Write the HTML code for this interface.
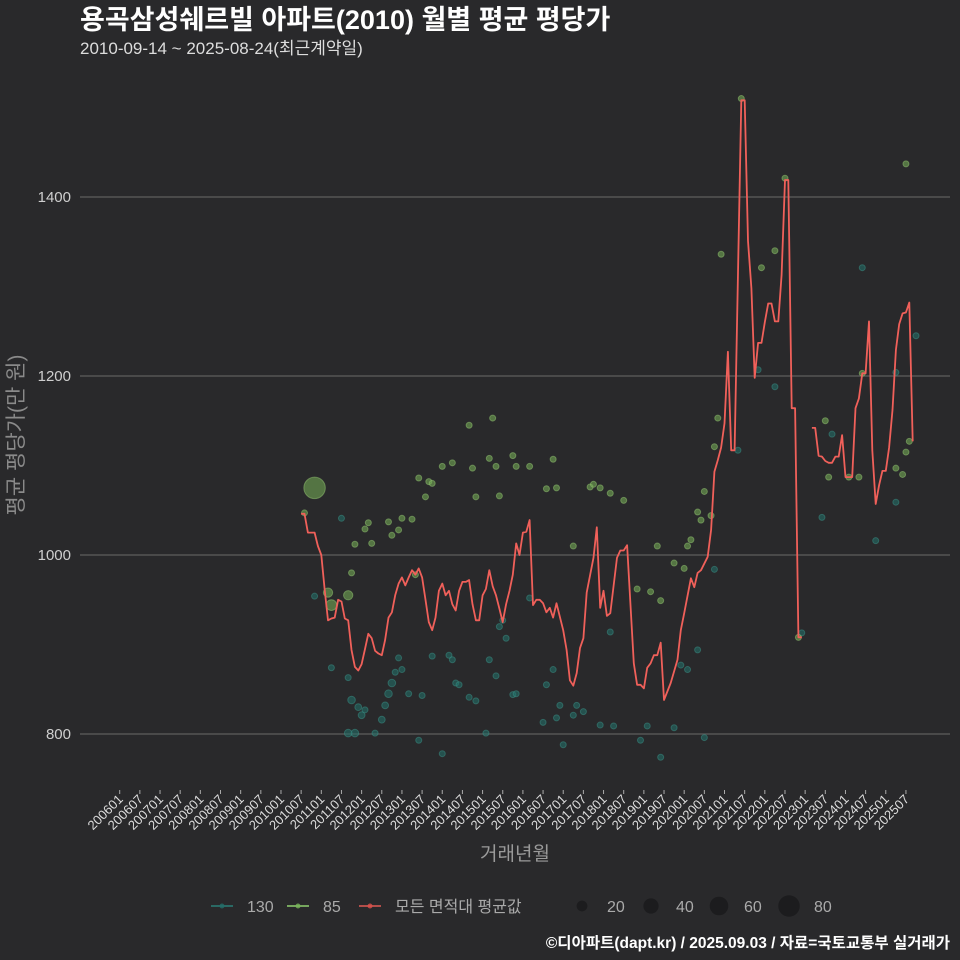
<!DOCTYPE html>
<html><head><meta charset="utf-8"><style>
body{margin:0;background:#29292b;}
svg{display:block;font-family:"Liberation Sans","Noto Sans CJK KR",sans-serif;}
</style></head><body>
<svg id="c" width="960" height="960">
<rect width="960" height="960" fill="#29292b"/>
<text x="80" y="29" fill="#fff" font-size="27" font-weight="bold">용곡삼성쉐르빌 아파트(2010) 월별 평균 평당가</text>
<text x="80" y="54" fill="#ddd" font-size="17">2010-09-14 ~ 2025-08-24(최근계약일)</text>
<text transform="translate(23,435) rotate(-90)" text-anchor="middle" fill="#8a8a8a" font-size="21">평균 평당가(만 원)</text>
<text x="515" y="860" text-anchor="middle" fill="#9a9a9a" font-size="19">거래년월</text>
<text x="950" y="948" text-anchor="end" fill="#fff" font-size="15.5" font-weight="bold">©디아파트(dapt.kr) / 2025.09.03 / 자료=국토교통부 실거래가</text>
<g id="grid"></g><g id="pts"></g><g id="line"></g><g id="xax"></g>
<g id="legend"></g>
</svg>
<script>
const yTicks=[800,1000,1200,1400];
const lineMonths=[54,55,56,57,58,59,60,61,62,63,64,65,66,67,68,69,70,71,72,73,74,75,76,77,78,79,80,81,82,83,84,85,86,87,88,89,90,91,92,93,94,95,96,97,98,99,100,101,102,103,104,105,106,107,108,109,110,111,112,113,114,115,116,117,118,119,120,121,122,123,124,125,126,127,128,129,130,132,133,134,135,136,137,138,139,141,142,143,144,145,146,148,149,150,151,153,154,155,156,157,158,159,160,161,162,164,166,167,168,170,171,172,173,175,176,177,178,179,180,181,182,183,185,186,187,188,189,190,191,192,193,194,195,196,197,198,199,200,201,202,203,null,206,207,208,209,210,211,212,213,214,215,216,217,218,219,220,221,222,223,224,225,226,227,228,229,230,231,232,233,234,235,236];
const lineValues=[1046,1046,1025,1025,1025,1010,1000,961,927,929,930,950,948,929,927,894,875,871,878,895,912,907,893,890,888,905,930,936,955,968,975,966,975,983,978,985,975,950,925,916,930,960,968,955,960,945,938,960,970,970,972,945,927,927,955,962,983,965,955,940,925,945,960,978,1013,1000,1025,1026,1039,944,950,950,946,936,941,930,946,916,894,860,854,868,896,907,958,997,1031,941,960,932,935,997,1005,1005,1011,879,855,855,851,874,879,888,888,902,838,857,883,916,935,974,964,980,983,998,1028,1093,1106,1120,1147,1227,1117,1117,1508,1508,1351,1298,1198,1237,1237,1260,1281,1281,1261,1261,1313,1419,1419,1164,1164,908,908,null,1142,1142,1111,1110,1105,1103,1103,1110,1110,1134,1087,1087,1087,1164,1175,1203,1203,1261,1117,1057,1078,1094,1094,1120,1162,1229,1258,1270,1271,1282,1127];
const g85Months=[55,58,62,63,68,69,70,74,73,75,80,81,83,84,87,88,89,92,93,91,96,99,104,106,105,110,111,112,113,117,118,122,127,129,130,135,140,141,143,146,150,154,158,160,161,165,168,169,170,172,173,174,176,177,178,179,185,191,195,198,202,210,211,217,220,221,231,233,234,234,235];
const g85Values=[1047,1075,958,944,955,980,1012,1036,1029,1013,1037,1022,1028,1041,1040,978,1086,1082,1080,1065,1099,1103,1145,1065,1097,1108,1153,1099,1066,1111,1099,1099,1074,1107,1075,1010,1076,1079,1075,1069,1061,962,959,1010,949,991,985,1010,1017,1048,1039,1071,1044,1121,1153,1336,1510,1321,1340,1421,908,1150,1087,1087,1087,1203,1097,1090,1115,1437,1127];
const g85Counts=[3,80,15,20,15,5,3,3,3,3,3,3,3,3,3,4,3,4,3,3,3,3,3,3,3,3,3,3,3,3,3,3,3,4,3,3,3,3,3,3,3,3,3,3,3,3,4,3,3,3,3,4,3,3,4,3,3,3,3,3,3,3,3,3,3,3,3,3,3,3,3];
const g130Months=[58,63,66,68,69,70,71,72,68,73,76,78,79,80,81,82,83,84,86,89,90,93,96,98,99,100,101,104,106,109,110,112,113,114,115,117,118,122,126,127,129,130,131,132,135,136,138,143,146,147,155,157,161,165,167,169,172,174,177,184,190,195,203,209,212,221,225,231,231,237];
const g130Values=[954,874,1041,863,838,801,830,821,801,827,801,816,832,845,857,869,885,872,845,793,843,887,778,888,883,857,855,841,837,801,883,865,920,927,907,844,845,952,813,855,872,818,832,788,821,832,825,810,914,809,793,809,774,807,877,872,894,796,984,1117,1207,1188,913,1042,1135,1321,1016,1059,1204,1245];
const g130Counts=[4,3,3,4,10,10,8,8,10,6,4,8,8,10,10,6,6,4,3,6,3,3,3,3,3,3,3,3,3,3,4,3,3,3,3,3,3,3,3,4,4,3,3,3,3,3,3,3,3,3,3,3,3,3,5,3,3,3,5,3,3,3,3,3,3,3,3,3,3,3];
const xTickLabels=[];for(let y=2006;y<=2025;y++){xTickLabels.push(y+"01");xTickLabels.push(y+"07");}

const X=m=>119.7+3.36*m;
const Y=v=>555-(v-1000)*0.895;
const R=n=>Math.max(3,Math.sqrt(n)*1.2);
const NS="http://www.w3.org/2000/svg";
function mk(t,a,p){const e=document.createElementNS(NS,t);for(const k in a)e.setAttribute(k,a[k]);p.appendChild(e);return e;}
const grid=document.getElementById('grid');
yTicks.forEach(v=>{
 const l=mk('line',{x1:80,x2:950,y1:Y(v),y2:Y(v),stroke:'#5e5e5e','stroke-width':1.3},grid);
 
 
 const t=mk('text',{x:71,y:Y(v)+5,'text-anchor':'end',fill:'#cfcfcf','font-size':15},grid);
 t.textContent=v;
 
 
});
const xax=document.getElementById('xax');
xTickLabels.forEach((s,i)=>{
 const x=X(i*6);
 const tk=mk('line',{x1:x,x2:x,y1:790,y2:794,stroke:'#aaa'},xax);
 
 
 const t=mk('text',{transform:`translate(${x+4},${800}) rotate(-45)`,'text-anchor':'end',fill:'#ddd','font-size':13},xax);
 t.textContent=s;
 
 
});
const pts=document.getElementById('pts');
function series(ms,vs,ns,fill,stroke,name){
 ms.forEach((m,i)=>{
  const c=mk('circle',{cx:X(m),cy:Y(vs[i]),r:R(ns[i]),fill:fill,stroke:stroke,'stroke-width':1},pts);
  
  
 });
}
series(g130Months,g130Values,g130Counts,'rgba(35,115,108,0.55)','rgba(60,145,135,0.5)','point-130');
series(g85Months,g85Values,g85Counts,'rgba(115,170,85,0.58)','rgba(150,200,115,0.5)','point-85');
const lg=document.getElementById('line');
let d='',pen=false;
lineMonths.forEach((m,i)=>{
 if(m===null||lineValues[i]===null){pen=false;return;}
 d+=(pen?'L':'M')+X(m).toFixed(1)+','+Y(lineValues[i]).toFixed(1);pen=true;
});
const p=mk('path',{d:d,fill:'none',stroke:'#f0605a','stroke-width':1.8,'stroke-linejoin':'round'},lg);


const leg=document.getElementById('legend');
const items=[['130','#2b7f78','rgba(35,110,105,0.8)',222],['85','#8fd070','rgba(120,180,90,0.8)',298],['모든 면적대 평균값','#e05a55','rgba(220,80,75,0.8)',370]];
items.forEach(it=>{
 const l=mk('line',{x1:it[3]-11,x2:it[3]+11,y1:906,y2:906,stroke:it[1],'stroke-width':1.5},leg);
 
 
 const c=mk('circle',{cx:it[3],cy:906,r:2.5,fill:it[2]},leg);
 
 
 const t=mk('text',{x:it[3]+25,y:912,fill:'#aaa','font-size':16},leg);
 t.textContent=it[0];
 
 
});
const sizeVals=[20,40,60,80],sizeX=[582,651,719,789];
sizeVals.forEach((n,i)=>{
 const c=mk('circle',{cx:sizeX[i],cy:906,r:Math.sqrt(n)*1.2,fill:'#1c1c1e'},leg);
 
 
 const t=mk('text',{x:sizeX[i]+25,y:912,fill:'#aaa','font-size':16},leg);
 t.textContent=n;
 
 
});
</script>
</body></html>
